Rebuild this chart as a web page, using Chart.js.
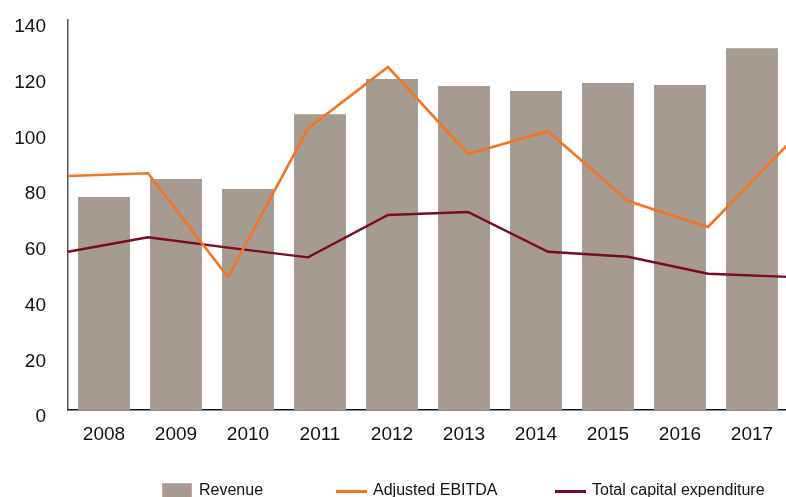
<!DOCTYPE html>
<html>
<head>
<meta charset="utf-8">
<script src="https://cdn.jsdelivr.net/npm/chart.js@4.4.1/dist/chart.umd.min.js"></script>
<style>
  html, body { margin: 0; padding: 0; background: #fff; overflow: hidden; }
  #wrap { position: relative; width: 786px; height: 497px; overflow: hidden; }
  #chart { position: absolute; left: 0; top: 0; }
  .lg { position: absolute; font: 16px "Liberation Sans", Arial, sans-serif; color: #111; line-height: 16px; white-space: nowrap; }
  .sw { position: absolute; }
</style>
</head>
<body>
<div id="wrap">
  <canvas id="chart" width="790" height="497" style="width:790px;height:497px"></canvas>
  <div class="sw" style="left:162px;top:483px;width:30px;height:20px;background:#a69b91;border:1px solid #d9a3a3;box-sizing:border-box"></div>
  <div class="lg" style="left:199px;top:482px">Revenue</div>
  <div class="sw" style="left:336px;top:490px;width:31px;height:3px;background:#f47424"></div>
  <div class="lg" style="left:373px;top:482px">Adjusted EBITDA</div>
  <div class="sw" style="left:555px;top:490px;width:31px;height:3px;background:#7b0a24"></div>
  <div class="lg" style="left:592px;top:482px">Total capital expenditure</div>
</div>
<script>
  // Revenue, adjusted EBITDA and capex per year
  const years = ['2008', '2009', '2010', '2011', '2012', '2013', '2014', '2015', '2016', '2017']
  const revenue = [76.5, 82.9, 79.3, 106.2, 118.8, 116.3, 114.5, 117.4, 116.7, 129.9]
  const adjustedEbitda = [84.0, 85.0, 47.7, 101.1, 123.1, 91.9, 100.1, 75.0, 65.7, 95.4]
  const capex = [56.8, 62.0, 58.3, 54.8, 70.0, 71.1, 56.8, 55.0, 48.9, 47.8]
  const yTicks = [0, 20, 40, 60, 80, 100, 120, 140]

  const fontFamily = '"Liberation Sans", Arial, Helvetica, sans-serif'

  // eslint-disable-next-line no-undef
  new Chart(document.getElementById('chart').getContext('2d'), {
    type: 'bar',
    data: {
      labels: years,
      datasets: [
        {
          type: 'line',
          label: 'Adjusted EBITDA',
          data: adjustedEbitda,
          xAxisID: 'x2',
          borderColor: '#f47424',
          borderWidth: 2.6,
          pointRadius: 0,
          tension: 0,
          order: 1
        },
        {
          type: 'line',
          label: 'Total capital expenditure',
          data: capex,
          xAxisID: 'x2',
          borderColor: '#7b0a24',
          borderWidth: 2.4,
          pointRadius: 0,
          tension: 0,
          order: 2
        },
        {
          type: 'bar',
          label: 'Revenue',
          data: revenue,
          xAxisID: 'x',
          backgroundColor: '#a69b91',
          grouped: false,
          categoryPercentage: 1,
          barPercentage: 0.722,
          order: 3
        }
      ]
    },
    options: {
      responsive: false,
      animation: false,
      layout: { padding: { top: 20, right: 2, left: 0, bottom: 0 } },
      plugins: { legend: { display: false }, tooltip: { enabled: false } },
      scales: {
        x: {
          type: 'category',
          offset: true,
          grid: { display: false, drawTicks: false },
          border: { display: true, color: '#111', width: 1.5 },
          ticks: { color: '#111', font: { family: fontFamily, size: 19 }, padding: 13, maxRotation: 0, autoSkip: false },
          afterFit: (s) => { s.height = 87 }
        },
        x2: {
          type: 'category',
          offset: false,
          display: false
        },
        y: {
          min: 0,
          max: 140,
          afterBuildTicks: (s) => { s.ticks = yTicks.map(v => ({ value: v })) },
          grid: { display: false, drawTicks: false },
          border: { display: true, color: '#555', width: 1.5 },
          ticks: { color: '#111', font: { family: fontFamily, size: 19 }, padding: 22, labelOffset: 7 },
          afterFit: (s) => { s.width = 68; s.paddingTop = 0; s.paddingBottom = 0 }
        }
      }
    }
  })
</script>
</body>
</html>
